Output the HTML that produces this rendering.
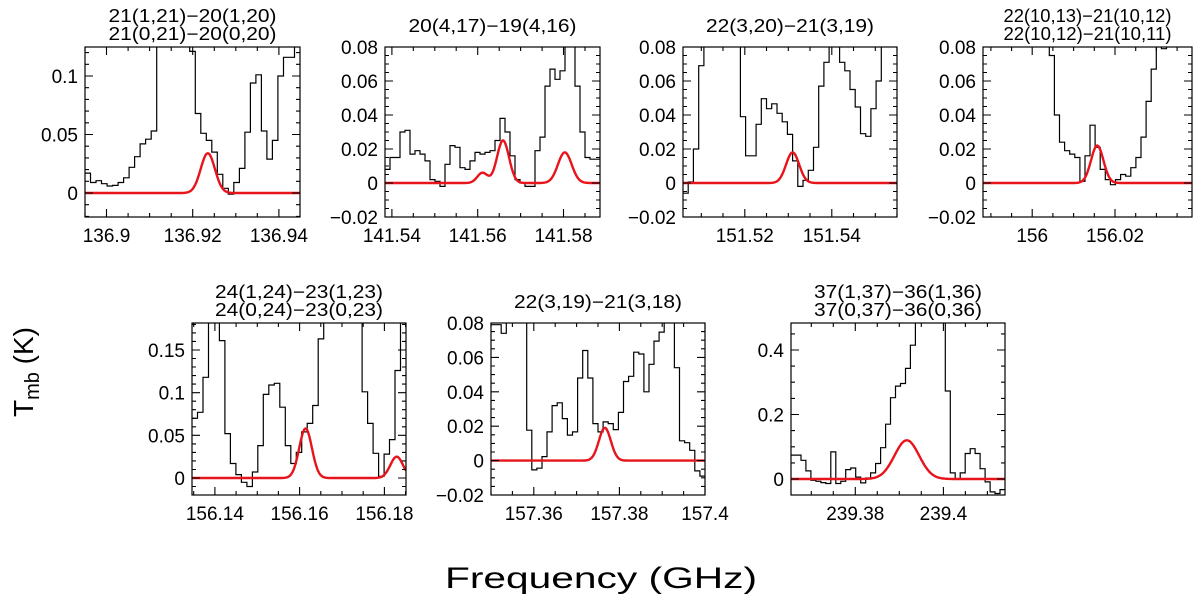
<!DOCTYPE html>
<html><head><meta charset="utf-8"><style>
html,body{margin:0;padding:0;background:#fff;}
svg{display:block;font-family:"Liberation Sans",sans-serif;}
</style></head><body>
<svg id="chart" width="1200" height="597" viewBox="0 0 1200 597" xmlns="http://www.w3.org/2000/svg">
<text x="601" y="588" font-size="30" text-anchor="middle" textLength="312" lengthAdjust="spacingAndGlyphs">Frequency (GHz)</text>
<text transform="translate(33,372) rotate(-90)" font-size="28" text-anchor="middle">T<tspan font-size="20" dy="6">mb</tspan><tspan dy="-6"> (K)</tspan></text>
</svg>
<script>
// ---- data ----
const titles1=["21(1,21)\u221220(1,20)","21(0,21)\u221220(0,20)"];
const titles2=["20(4,17)\u221219(4,16)"];
const titles3=["22(3,20)\u221221(3,19)"];
const titles4=["22(10,13)\u221221(10,12)","22(10,12)\u221221(10,11)"];
const titles5=["24(1,24)\u221223(1,23)","24(0,24)\u221223(0,23)"];
const titles6=["22(3,19)\u221221(3,18)"];
const titles7=["37(1,37)\u221236(1,36)","37(0,37)\u221236(0,36)"];

const xr1=[136.895,136.9449], yr1=[-0.0205,0.1248];
const xr2=[141.5384,141.5885], yr2=[-0.02,0.08];
const xr3=[151.5058,151.555], yr3=[-0.02,0.08];
const xr4=[155.9881,156.0386], yr4=[-0.02,0.08];
const xr5=[156.1346,156.1851], yr5=[-0.0199,0.1816];
const xr6=[157.35,157.4], yr6=[-0.02,0.08];
const xr7=[239.3654,239.414], yr7=[-0.0496,0.4837];

const ch1=[0.017,0.009,0.0105,0.008,0.006,0.0065,0.009,0.013,0.022,0.031,0.042,0.046,0.053,0.15,0.2,0.25,0.25,0.2,0.15,0.121,0.068,0.051,0.045,0.035,0.016,0.004,-0.001,0.009,0.021,0.052,0.094,0.101,0.053,0.029,0.045,0.1,0.116,0.116,0.14];
const ch2=[0.008,0.015,0.015,0.030,0.031,0.017,0.019,0.017,0.013,0.002,0.001,-0.002,0.011,0.022,0.021,0.009,0.008,0.013,0.018,0.017,0.018,0.019,0.025,0.038,0.030,0.016,0.002,0.000,-0.002,-0.002,0.019,0.027,0.057,0.067,0.061,0.066,0.1,0.1,0.057,0.030,0.015,0.014,0.014];
const ch3=[-0.006,0.0006,0.020,0.069,0.1,0.12,0.15,0.15,0.15,0.12,0.1,0.039,0.016,0.016,0.0345,0.0496,0.0437,0.0466,0.041,0.036,0.0286,0.013,-0.002,0.0016,0.0075,0.021,0.057,0.071,0.09,0.085,0.071,0.066,0.055,0.0447,0.029,0.0275,0.0437,0.060,0.1,0.1,0.1];
const ch4=[0.2,0.2,0.2,0.2,0.2,0.2,0.2,0.2,0.2,0.2,0.2,0.2,0.2,0.075,0.040,0.024,0.019,0.017,0.015,0.001,0.016,0.034,0.021,0.008,0.002,-0.001,0.002,0.005,0.004,0.009,0.015,0.027,0.048,0.067,0.09,0.079,0.1,0.1,0.1,0.1,0.1];
const ch5=[0.07,0.077,0.118,0.3,0.3,0.161,0.052,0.017,0.004,-0.005,-0.010,0.007,0.038,0.098,0.109,0.111,0.083,0.038,0.017,0.030,0.054,0.064,0.085,0.163,0.3,0.3,0.3,0.3,0.3,0.3,0.3,0.101,0.064,0.029,0.002,0.028,0.045,0.126,0.2];
const ch6=[0.079,0.079,0.074,0.1,0.1,0.1,0.1,0.0177,-0.0054,-0.0044,0.0023,0.0167,0.032,0.0336,0.0244,0.0148,0.0167,0.048,0.064,0.048,0.0215,0.0167,0.0225,0.0215,0.018,0.028,0.046,0.049,0.063,0.062,0.040,0.056,0.0695,0.0747,0.09,0.1,0.054,0.0115,0.0104,0.006,-0.006,-0.009];
const ch7=[0.074,0.074,0.058,0.025,-0.004,-0.007,-0.011,-0.014,0.084,-0.014,-0.007,0.029,0.034,0.006,-0.012,0.003,0.019,0.048,0.097,0.17,0.252,0.288,0.296,0.343,0.415,0.6,0.8,0.9,0.9,0.8,0.7,0.273,0.019,0.001,0.019,0.079,0.094,0.079,0.032,-0.009,-0.040,-0.045,-0.033];

const mC1=[136.9235], mA1=[0.034], mS1=[0.00165];
const mC2=[141.5611,141.5659,141.5803], mA2=[0.006,0.025,0.018], mS2=[0.0012,0.0014,0.0016];
const mC3=[151.531], mA3=[0.018], mS3=[0.0015];
const mC4=[156.0157], mA4=[0.022], mS4=[0.0015];
const mC5=[156.1614,156.1829], mA5=[0.058,0.025], mS5=[0.0015,0.0015];
const mC6=[157.3766], mA6=[0.019], mS6=[0.0014];
const mC7=[239.3917], mA7=[0.12], mS7=[0.0028];

const xt1=[136.9,136.92,136.94], xl1=["136.9","136.92","136.94"];
const xt2=[141.54,141.56,141.58], xl2=["141.54","141.56","141.58"];
const xt3=[151.52,151.54], xl3=["151.52","151.54"];
const xt4=[156,156.02], xl4=["156","156.02"];
const xt5=[156.14,156.16,156.18], xl5=["156.14","156.16","156.18"];
const xt6=[157.36,157.38,157.4], xl6=["157.36","157.38","157.4"];
const xt7=[239.38,239.4], xl7=["239.38","239.4"];
const yt1=[0,0.05,0.1], yl1=["0","0.05","0.1"];
const ytA=[-0.02,0,0.02,0.04,0.06,0.08], ylA=["\u22120.02","0","0.02","0.04","0.06","0.08"];
const yt5=[0,0.05,0.1,0.15], yl5=["0","0.05","0.1","0.15"];
const yt7=[0,0.2,0.4], yl7=["0","0.2","0.4"];

// ---- layout (not data) ----
const R1=[47,217], R2=[323,495];
const panels=[
 {id:1,box:[85,300],row:R1,titles:titles1,xr:xr1,yr:yr1,ch:ch1,mc:mC1,ma:mA1,ms:mS1,xt:xt1,xl:xl1,yt:yt1,yl:yl1,ym:0.01},
 {id:2,box:[385,600],row:R1,titles:titles2,xr:xr2,yr:yr2,ch:ch2,mc:mC2,ma:mA2,ms:mS2,xt:xt2,xl:xl2,yt:ytA,yl:ylA,ym:0.005},
 {id:3,box:[683,897],row:R1,titles:titles3,xr:xr3,yr:yr3,ch:ch3,mc:mC3,ma:mA3,ms:mS3,xt:xt3,xl:xl3,yt:ytA,yl:ylA,ym:0.005},
 {id:4,box:[983,1192],row:R1,titles:titles4,xr:xr4,yr:yr4,ch:ch4,mc:mC4,ma:mA4,ms:mS4,xt:xt4,xl:xl4,yt:ytA,yl:ylA,ym:0.005},
 {id:5,box:[192,406],row:R2,titles:titles5,xr:xr5,yr:yr5,ch:ch5,mc:mC5,ma:mA5,ms:mS5,xt:xt5,xl:xl5,yt:yt5,yl:yl5,ym:0.01},
 {id:6,box:[491,705],row:R2,titles:titles6,xr:xr6,yr:yr6,ch:ch6,mc:mC6,ma:mA6,ms:mS6,xt:xt6,xl:xl6,yt:ytA,yl:ylA,ym:0.005},
 {id:7,box:[791,1005],row:R2,titles:titles7,xr:xr7,yr:yr7,ch:ch7,mc:mC7,ma:mA7,ms:mS7,xt:xt7,xl:xl7,yt:yt7,yl:yl7,ym:0.05}
];
const NS="http://www.w3.org/2000/svg";
const svg=document.getElementById('chart');
function mk(tag,attrs,parent){const e=document.createElementNS(NS,tag);for(const k in attrs)e.setAttribute(k,attrs[k]);(parent||svg).appendChild(e);return e;}

panels.forEach(p=>{
 const [x0,x1]=p.box,[y0,y1]=p.row;
 const sx=v=>x0+(v-p.xr[0])/(p.xr[1]-p.xr[0])*(x1-x0);
 const sy=v=>y1-(v-p.yr[0])/(p.yr[1]-p.yr[0])*(y1-y0);
 const g=mk('g',{});
 
 
 const cp=mk('clipPath',{id:'clip'+p.id},g);
 mk('rect',{x:x0,y:y0,width:x1-x0,height:y1-y0},cp);
 const n=p.ch.length,w=(p.xr[1]-p.xr[0])/n;
 let d='';
 p.ch.forEach((v,i)=>{const a=sx(p.xr[0]+i*w),b=sx(p.xr[0]+(i+1)*w),y=sy(v).toFixed(1);d+=(i===0?'M'+a.toFixed(1)+' '+y:'V'+y)+'H'+b.toFixed(1);});
 const hist=mk('path',{d:d,fill:'none',stroke:'#000','stroke-width':1.2,'clip-path':'url(#clip'+p.id+')'},g);
 
 
 let md='';
 for(let k=0;k<=400;k++){const f=p.xr[0]+k/400*(p.xr[1]-p.xr[0]);let s=0;p.mc.forEach((c,j)=>{s+=p.ma[j]*Math.exp(-0.5*Math.pow((f-c)/p.ms[j],2));});md+=(k?'L':'M')+sx(f).toFixed(1)+' '+sy(s).toFixed(1);}
 const model=mk('path',{d:md,fill:'none',stroke:'#e8141c','stroke-width':2.4,'clip-path':'url(#clip'+p.id+')'},g);
 
 
 const fr=mk('rect',{x:x0,y:y0,width:x1-x0,height:y1-y0,fill:'none',stroke:'#000','stroke-width':1.2},g);
 
 
 let td='';
 const xs=0.005;
 for(let k=Math.ceil(p.xr[0]/xs-1e-6);k*xs<=p.xr[1]+1e-9;k++){const v=k*xs,X=sx(v).toFixed(1);const maj=Math.abs(v/0.02-Math.round(v/0.02))<1e-4;const L=maj?8:4;td+='M'+X+' '+y1+'v'+(-L)+'M'+X+' '+y0+'v'+L;}
 for(let k=Math.ceil(p.yr[0]/p.ym-1e-6);k*p.ym<=p.yr[1]+1e-9;k++){const v=k*p.ym,Y=sy(v).toFixed(1);const maj=p.yt.some(t=>Math.abs(t-v)<1e-6);const L=maj?8:4;td+='M'+x0+' '+Y+'h'+L+'M'+x1+' '+Y+'h'+(-L);}
 const tk=mk('path',{d:td,stroke:'#000','stroke-width':1.1,fill:'none'},g);
 
 
 p.xt.forEach((v,i)=>{const t=mk('text',{x:sx(v).toFixed(1),y:y1+25,'font-size':19,'text-anchor':'middle'},g);t.textContent=p.xl[i];
  
  });
 p.yt.forEach((v,i)=>{const t=mk('text',{x:x0-7,y:(sy(v)+7).toFixed(1),'font-size':19,'text-anchor':'end'},g);t.textContent=p.yl[i];
  
  });
 const cx=(x0+x1)/2;
 const base=p.titles.length===2?[y0-25,y0-7]:[y0-15];
 p.titles.forEach((s,i)=>{const t=mk('text',{x:cx,y:base[i],'font-size':18,'text-anchor':'middle',textLength:168,lengthAdjust:'spacingAndGlyphs'},g);t.textContent=s;
  
  });
});
</script>
</body></html>
